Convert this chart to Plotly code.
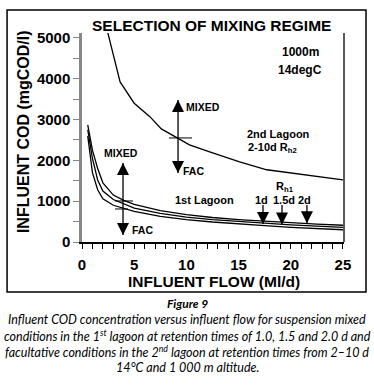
import plotly.graph_objects as go

# ---- data ----
flow_2nd = [2.4, 3.2, 3.65, 5, 6.5, 7.6, 9.2, 10.3, 12.3, 15.1, 17.7, 20.2, 25]
cod_2nd = [5200, 4340, 3920, 3400, 3070, 2770, 2550, 2380, 2200, 1960, 1770, 1690, 1520]

flow_1st = [0.55, 1, 1.5, 2, 3, 4, 5, 7.5, 10, 12.5, 15, 17.5, 20, 22.5, 25]
cod_1st_low = [2600, 1700, 1280, 1060, 900, 820, 750, 630, 550, 490, 440, 400, 360, 330, 300]
cod_1st_mid = [2750, 2050, 1520, 1250, 1040, 930, 830, 700, 610, 550, 500, 460, 420, 390, 360]
cod_1st_top = [2870, 2250, 1800, 1450, 1150, 1020, 920, 770, 670, 600, 550, 510, 470, 440, 410]

y_tick_vals = [0, 1000, 2000, 3000, 4000, 5000]
y_tick_text = ["0", "1000", "2000", "3000", "4000", "5000"]
x_tick_vals = [0, 5, 10, 15, 20, 25]
x_tick_text = ["0", "5", "10", "15", "20", "25"]

FONT = "Liberation Sans"
CAP = "Lato"

fig = go.Figure()
line_style = dict(color="black", width=1.3)
for xs, ys in [(flow_2nd, cod_2nd), (flow_1st, cod_1st_low), (flow_1st, cod_1st_mid), (flow_1st, cod_1st_top)]:
    fig.add_trace(go.Scatter(x=xs, y=ys, mode="lines", line=line_style, hoverinfo="skip", showlegend=False))

# arrow lines
arrow_lines = [
    (9.2, 1690, 9.2, 3480),
    (3.93, 172, 3.93, 1936),
    (17.34, 440, 17.34, 907),
    (19.16, 430, 19.16, 907),
    (21.55, 460, 21.55, 907),
]
for x0, y0, x1, y1 in arrow_lines:
    fig.add_shape(type="line", x0=x0, y0=y0, x1=x1, y1=y1, xref="x", yref="y",
                  line=dict(color="black", width=1.3))
# crosshair ticks
for x0, x1, yy in [(8.33, 10.54, 2549), (3.16, 4.89, 1005), (3.16, 4.4, 809)]:
    fig.add_shape(type="line", x0=x0, x1=x1, y0=yy, y1=yy, xref="x", yref="y",
                  line=dict(color="black", width=1))

# arrow heads
fig.add_trace(go.Scatter(x=[9.2, 3.93], y=[3480, 1936], mode="markers",
                         marker=dict(symbol="arrow-up", size=12, color="black"),
                         hoverinfo="skip", showlegend=False))
fig.add_trace(go.Scatter(x=[9.2, 3.93, 17.34, 19.16, 21.55], y=[1690, 172, 440, 430, 460], mode="markers",
                         marker=dict(symbol="arrow-down", size=12, color="black"),
                         hoverinfo="skip", showlegend=False))

# right border of plot
fig.add_shape(type="line", xref="paper", yref="paper", x0=1, x1=1, y0=0, y1=1,
              line=dict(color="black", width=1.3))
# outer frame
fig.add_shape(type="rect", xref="paper", yref="paper", x0=-0.286, x1=1.084, y0=-0.239, y1=1.110,
              line=dict(color="black", width=1.5))

def ann(text, x, y, size, xanchor="center", xref="x", yref="y", **kw):
    fig.add_annotation(text=text, x=x, y=y, xref=xref, yref=yref, showarrow=False,
                       xanchor=xanchor, yanchor="middle",
                       font=dict(family=kw.pop("family", FONT), size=size, color="black",
                                 weight=kw.pop("weight", "bold"), style=kw.pop("style", "normal")),
                       **kw)

ann("SELECTION OF MIXING REGIME", 0.496, 1.038, 15.5, xref="paper", yref="paper")
ann("1000m", 20.95, 4657, 12)
ann("14degC", 20.9, 4216, 12)
ann("MIXED", 9.75, 3309, 10.5, xanchor="left")
ann("FAC", 9.45, 1740, 10.5, xanchor="left")
ann("2nd Lagoon", 15.6, 2647, 11, xanchor="left")
ann("2-10d R<sub>h2</sub>", 15.75, 2304, 11, xanchor="left")
ann("MIXED", 3.69, 2181, 10.5)
ann("FAC", 4.6, 294, 10.5, xanchor="left")
ann("1st Lagoon", 11.78, 1029, 11)
ann("R<sub>h1</sub>", 19.44, 1348, 11)
ann("1d", 17.15, 1029, 11)
ann("1.5d", 19.35, 1029, 11)
ann("2d", 21.36, 1029, 11)

# axis titles
ann("INFLUENT FLOW (Ml/d)", 0.505, -0.187, 15.5, xref="paper", yref="paper")
fig.add_annotation(text="INFLUENT COD (mgCOD/l)", x=-0.225, y=0.526, xref="paper", yref="paper",
                   showarrow=False, textangle=-90, xanchor="center", yanchor="middle",
                   font=dict(family=FONT, size=16, color="black", weight="bold"))

# caption
ann("Figure 9", 0.401, -0.292, 12, xref="paper", yref="paper", family=CAP, style="italic")
cap_lines = [
    "Influent COD concentration versus influent flow for suspension mixed",
    "conditions in the 1<sup>st</sup> lagoon at retention times of 1.0, 1.5 and 2.0 d and",
    "facultative conditions in the 2<sup>nd</sup> lagoon at retention times from 2–10 d",
    "14°C and 1 000 m altitude.",
]
for i, t in enumerate(cap_lines):
    ann(t, 0.401, -0.373 - 0.0765 * i, 12.5, xref="paper", yref="paper", family=CAP,
        style="italic", weight="normal")

fig.update_layout(
    width=374, height=387,
    margin=dict(l=82, r=30, t=33, b=145),
    paper_bgcolor="white", plot_bgcolor="white",
    showlegend=False,
    xaxis=dict(range=[0, 25.1], showgrid=False, zeroline=False, showline=True,
               linecolor="black", linewidth=1.5, ticks="outside", ticklen=5, tickcolor="black",
               tickvals=x_tick_vals, ticktext=x_tick_text, ticklabelstandoff=3,
               minor=dict(dtick=1, ticks="outside", ticklen=5, tickcolor="black"),
               tickfont=dict(family=FONT, size=15, color="black", weight="bold")),
    yaxis=dict(range=[0, 5120], showgrid=False, zeroline=False, showline=True,
               linecolor="#888888", linewidth=2.5, ticks="outside", ticklen=6, tickcolor="#888888",
               tickvals=y_tick_vals, ticktext=y_tick_text, ticklabelstandoff=0,
               minor=dict(dtick=500, ticks="outside", ticklen=6, tickcolor="#888888"),
               tickfont=dict(family=FONT, size=15, color="black", weight="bold")),
)

fig.write_html("out.html", config={"displayModeBar": False},
               post_script="document.body.style.margin='0';document.body.style.overflow='hidden';")
